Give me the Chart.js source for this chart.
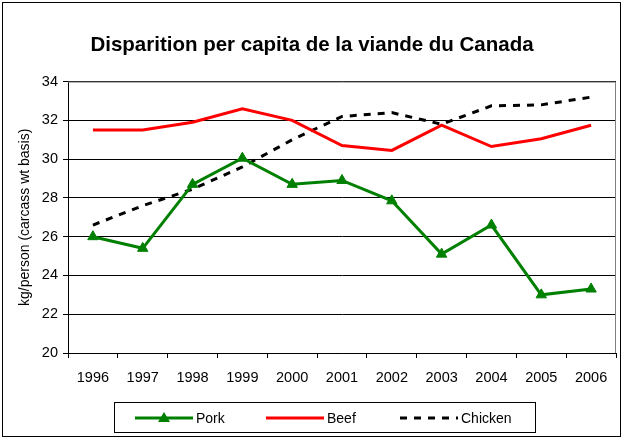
<!DOCTYPE html>
<html>
<head>
<meta charset="utf-8">
<title>Disparition per capita de la viande du Canada</title>
<script src="https://cdn.jsdelivr.net/npm/chart.js@4"></script>
<style>
  html, body { margin: 0; padding: 0; background: #fff; }
  #wrap { width: 623px; height: 439px; }
</style>
</head>
<body>
<div id="wrap"><canvas id="meatChart" width="623" height="439"></canvas></div>
<script>
// data
const years = ['1996', '1997', '1998', '1999', '2000', '2001', '2002', '2003', '2004', '2005', '2006'];
const porkValues = [26.0, 25.4, 28.7, 30.05, 28.7, 28.9, 27.85, 25.1, 26.6, 23.0, 23.3];
const beefValues = [31.5, 31.5, 31.9, 32.6, 32.0, 30.7, 30.45, 31.75, 30.65, 31.05, 31.75];
const chickenValues = [26.6, 27.6, 28.45, 29.6, 31.0, 32.2, 32.4, 31.8, 32.75, 32.8, 33.2];
const yTicks = [20, 22, 24, 26, 28, 30, 32, 34];

const FONT = "'Liberation Sans', Arial, sans-serif";

// outer frame, gray top/right plot border and the boxed legend
const framePlugin = {
    id: 'frame',
    afterDraw(chart) {
        const ctx = chart.ctx;
        const a = chart.chartArea;
        ctx.save();
        ctx.strokeStyle = '#000';
        ctx.lineWidth = 1;
        ctx.strokeRect(2.5, 2.5, 618, 434);

        ctx.strokeStyle = '#808080';
        ctx.beginPath();
        ctx.moveTo(a.left, a.top + 0.5);
        ctx.lineTo(a.right - 0.5, a.top + 0.5);
        ctx.lineTo(a.right - 0.5, a.bottom);
        ctx.stroke();

        // legend
        ctx.strokeStyle = '#000';
        ctx.strokeRect(114.5, 402.5, 421, 30);
        const starts = [135, 266, 400];
        ctx.font = '14px ' + FONT;
        ctx.textBaseline = 'middle';
        chart.data.datasets.forEach((ds, i) => {
            const x0 = starts[i], x1 = x0 + 58, y = 418;
            ctx.strokeStyle = ds.borderColor;
            ctx.lineWidth = ds.borderWidth;
            ctx.setLineDash(ds.borderDash || []);
            ctx.beginPath();
            ctx.moveTo(x0, y);
            ctx.lineTo(x1, y);
            ctx.stroke();
            ctx.setLineDash([]);
            if (ds.pointStyle === 'triangle') {
                const cx = (x0 + x1) / 2;
                ctx.fillStyle = ds.pointBackgroundColor;
                ctx.beginPath();
                ctx.moveTo(cx, y - 6);
                ctx.lineTo(cx + 6, y + 4);
                ctx.lineTo(cx - 6, y + 4);
                ctx.closePath();
                ctx.fill();
            }
            ctx.fillStyle = '#000';
            ctx.textAlign = 'left';
            ctx.fillText(ds.label, x1 + 3, y + 1);
        });
        ctx.restore();
    }
};

const ctx = document.getElementById('meatChart').getContext('2d');
new Chart(ctx, {
    type: 'line',
    data: {
        labels: years,
        datasets: [
            {
                label: 'Pork',
                data: porkValues,
                borderColor: '#008000',
                backgroundColor: '#008000',
                pointBackgroundColor: '#008000',
                pointBorderColor: '#008000',
                borderWidth: 3,
                pointStyle: 'triangle',
                pointRadius: 6,
                pointBorderWidth: 1,
                tension: 0
            },
            {
                label: 'Beef',
                data: beefValues,
                borderColor: '#ff0000',
                backgroundColor: '#ff0000',
                borderWidth: 3,
                pointRadius: 0,
                tension: 0
            },
            {
                label: 'Chicken',
                data: chickenValues,
                borderColor: '#000000',
                backgroundColor: '#000000',
                borderWidth: 3,
                borderDash: [7, 7],
                pointRadius: 0,
                tension: 0
            }
        ]
    },
    options: {
        responsive: false,
        animation: false,
        devicePixelRatio: 1,
        layout: { padding: { top: 25, left: 8, right: 7, bottom: 46 } },
        plugins: {
            legend: { display: false },
            tooltip: { enabled: false },
            title: {
                display: true,
                text: 'Disparition per capita de la viande du Canada',
                color: '#000',
                font: { family: FONT, size: 20.5, weight: 'bold' },
                padding: { top: 8, bottom: 24 }
            }
        },
        scales: {
            x: {
                offset: true,
                grid: {
                    offset: true,
                    drawOnChartArea: false,
                    drawTicks: true,
                    tickLength: 5,
                    color: '#000'
                },
                border: { color: '#000', width: 1 },
                ticks: {
                    color: '#000',
                    font: { family: FONT, size: 14.5 },
                    padding: 11,
                    maxRotation: 0
                },
                afterFit(scale) { scale.height = 40; }
            },
            y: {
                min: 20,
                max: 34,
                afterBuildTicks(scale) { scale.ticks = yTicks.map(v => ({ value: v })); },
                grid: { color: '#000', tickLength: 5, lineWidth: 1 },
                border: { color: '#000', width: 1 },
                ticks: {
                    color: '#000',
                    font: { family: FONT, size: 14.5 },
                    padding: 5
                },
                title: {
                    display: true,
                    text: 'kg/person (carcass wt basis)',
                    color: '#000',
                    font: { family: FONT, size: 14 },
                    padding: { top: 9, bottom: 0 }
                },
                afterFit(scale) { scale.width = 60; }
            }
        }
    },
    plugins: [framePlugin]
});
</script>
</body>
</html>
